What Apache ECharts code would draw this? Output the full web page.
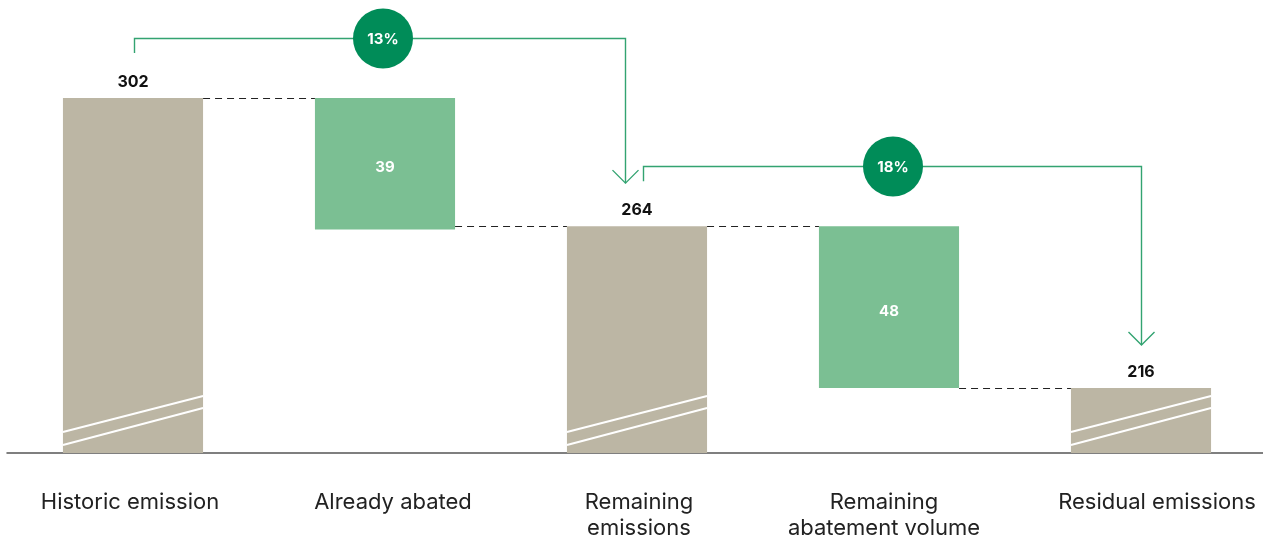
<!DOCTYPE html>
<html>
<head>
<meta charset="utf-8">
<style>
  html, body { margin: 0; padding: 0; background: #ffffff; }
  #chart { width: 1263px; height: 541px; }
</style>
<script src="https://cdn.jsdelivr.net/npm/echarts@6/dist/echarts.min.js"></script>
</head>
<body>
<div id="chart"></div>
<script>
// Emission waterfall: totals (tan) and reductions (green)
const categories = ['Historic emission', 'Already abated', 'Remaining\nemissions', 'Remaining\nabatement volume', 'Residual emissions'];
const totals = [302, null, 264, null, 216];
const reductions = [null, 39, null, 48, null];

// Reduction step hangs from the preceding total
const reductionBase = reductions.map((r, i) => (r == null ? '-' : totals[i - 1] - r));
const reductionVals = reductions.map(r => (r == null ? '-' : r));
const totalVals = totals.map(t => (t == null ? '-' : t));

// Share-of-total brackets: from one total to the next
const brackets = [];
totals.forEach((t, i) => {
  if (t != null && i + 2 < totals.length && totals[i + 2] != null) {
    const pct = Math.round(reductions[i + 1] / t * 100);
    brackets.push([i, t, i + 2, totals[i + 2], pct]);
  }
});
// horizontal nudges of bracket start / arrow end / badge (px)
const bracketNudge = [[1, -12, -2], [6, 0, 4]];
// horizontal nudges of the category captions (px)
const captionNudge = [-3, 8, 2, -5, 16];

// dashed connector levels between neighbouring bars
const connectors = [];
for (let i = 0; i < categories.length - 1; i++) {
  const level = totals[i] != null ? totals[i] : totals[i + 1];
  connectors.push([i, level]);
}

const TAN = '#bcb6a4';
const GREEN_BAR = '#7bbf93';
const GREEN_LINE = '#33a371';
const GREEN_DOT = '#008c58';
const BAR_FRAC = 0.556;
const Y_MIN = 196.72;
const Y_MAX = 331.06;

// caption rich styles, one per category
const captionRich = {};
captionNudge.forEach((dx, i) => {
  captionRich['c' + i] = {
    fontFamily: 'Inter',
    fontSize: 22,
    color: '#222222',
    lineHeight: 26,
    padding: dx >= 0 ? [0, 0, 0, dx * 2] : [0, -dx * 2, 0, 0]
  };
});

const chart = echarts.init(document.getElementById('chart'), null, { renderer: 'canvas' });

chart.setOption({
  animation: false,
  backgroundColor: '#ffffff',
  grid: { left: 7, width: 1260, top: 0, bottom: 88, containLabel: false, outerBoundsMode: 'none' },
  xAxis: {
    type: 'category',
    data: categories,
    axisLine: { show: true, lineStyle: { color: '#555555', width: 1.5 } },
    axisTick: { show: false },
    axisLabel: {
      interval: 0,
      margin: 36,
      lineHeight: 26,
      formatter: function (value, index) {
        return value.split('\n').map(s => '{c' + index + '|' + s + '}').join('\n');
      },
      rich: captionRich
    }
  },
  yAxis: {
    type: 'value',
    min: Y_MIN,
    max: Y_MAX,
    show: false,
    splitLine: { show: false }
  },
  series: [
    {
      name: 'base',
      type: 'bar',
      stack: 'fall',
      barWidth: (BAR_FRAC * 100) + '%',
      barGap: '-100%',
      itemStyle: { color: 'transparent' },
      silent: true,
      data: reductionBase
    },
    {
      name: 'reduction',
      type: 'bar',
      stack: 'fall',
      barWidth: (BAR_FRAC * 100) + '%',
      barGap: '-100%',
      itemStyle: { color: GREEN_BAR },
      label: {
        show: true,
        position: 'inside',
        color: '#ffffff',
        fontFamily: 'Inter',
        fontWeight: 'bold',
        fontSize: 15,
        offset: [0, 4]
      },
      data: reductionVals
    },
    {
      name: 'total',
      type: 'bar',
      barWidth: (BAR_FRAC * 100) + '%',
      barGap: '-100%',
      itemStyle: { color: TAN },
      label: {
        show: true,
        position: 'top',
        distance: 8,
        color: '#111111',
        fontFamily: 'Inter',
        fontWeight: 'bold',
        fontSize: 16
      },
      data: totalVals
    },
    {
      // axis-break marks across the totals
      name: 'break',
      type: 'custom',
      silent: true,
      z: 5,
      data: totals.map((t, i) => [i, t]).filter(d => d[1] != null),
      encode: { x: 0, y: 1 },
      renderItem: function (params, api) {
        const c = api.coord([api.value(0), api.value(1)]);
        const base = api.coord([api.value(0), Y_MIN])[1];
        const w = api.size([1, 0])[0] * BAR_FRAC;
        const L = c[0] - w / 2, R = c[0] + w / 2;
        const style = { stroke: '#ffffff', lineWidth: 2 };
        return {
          type: 'group',
          children: [
            { type: 'line', shape: { x1: L, y1: base - 8, x2: R, y2: base - 45 }, style: style },
            { type: 'line', shape: { x1: L, y1: base - 21, x2: R, y2: base - 57 }, style: style }
          ]
        };
      }
    },
    {
      name: 'connector',
      type: 'custom',
      silent: true,
      data: connectors,
      encode: { x: 0, y: 1 },
      renderItem: function (params, api) {
        const a = api.coord([api.value(0), api.value(1)]);
        const b = api.coord([api.value(0) + 1, api.value(1)]);
        const w = api.size([1, 0])[0] * BAR_FRAC;
        const y = Math.round(a[1]) + 0.5;
        return {
          type: 'line',
          shape: { x1: a[0] + w / 2, y1: y, x2: b[0] - w / 2, y2: y },
          style: { stroke: '#222222', lineWidth: 1, lineDash: [7, 5] }
        };
      }
    },
    {
      name: 'bracket',
      type: 'custom',
      silent: true,
      z: 6,
      data: brackets,
      encode: { x: 0, y: 1 },
      renderItem: function (params, api) {
        const k = params.dataIndex;
        const p0 = api.coord([api.value(0), api.value(1)]);
        const p1 = api.coord([api.value(2), api.value(3)]);
        const m = api.coord([(api.value(0) + api.value(2)) / 2, api.value(1)]);
        const nudge = bracketNudge[k] || [0, 0, 0];
        const x0 = Math.round(p0[0] + nudge[0]) + 0.5;
        const x1 = Math.round(p1[0] + nudge[1]) + 0.5;
        const yTop = Math.round(p0[1] - 60) + 0.5;
        const yStart = p0[1] - 45;
        const yEnd = p1[1] - 43;
        const cx = m[0] + nudge[2];
        const lineStyle = { stroke: GREEN_LINE, lineWidth: 1.4, fill: null };
        return {
          type: 'group',
          children: [
            {
              type: 'polyline',
              shape: { points: [[x0, yStart], [x0, yTop], [x1, yTop], [x1, yEnd]] },
              style: lineStyle
            },
            {
              type: 'polyline',
              shape: { points: [[x1 - 13, yEnd - 13], [x1, yEnd], [x1 + 13, yEnd - 13]] },
              style: lineStyle
            },
            {
              type: 'circle',
              shape: { cx: cx, cy: yTop, r: 30 },
              style: { fill: GREEN_DOT }
            },
            {
              type: 'text',
              x: cx,
              y: yTop + 1,
              style: {
                text: api.value(4) + '%',
                fill: '#ffffff',
                font: 'bold 15px Inter',
                align: 'center',
                verticalAlign: 'middle'
              }
            }
          ]
        };
      }
    }
  ]
});
</script>
</body>
</html>
